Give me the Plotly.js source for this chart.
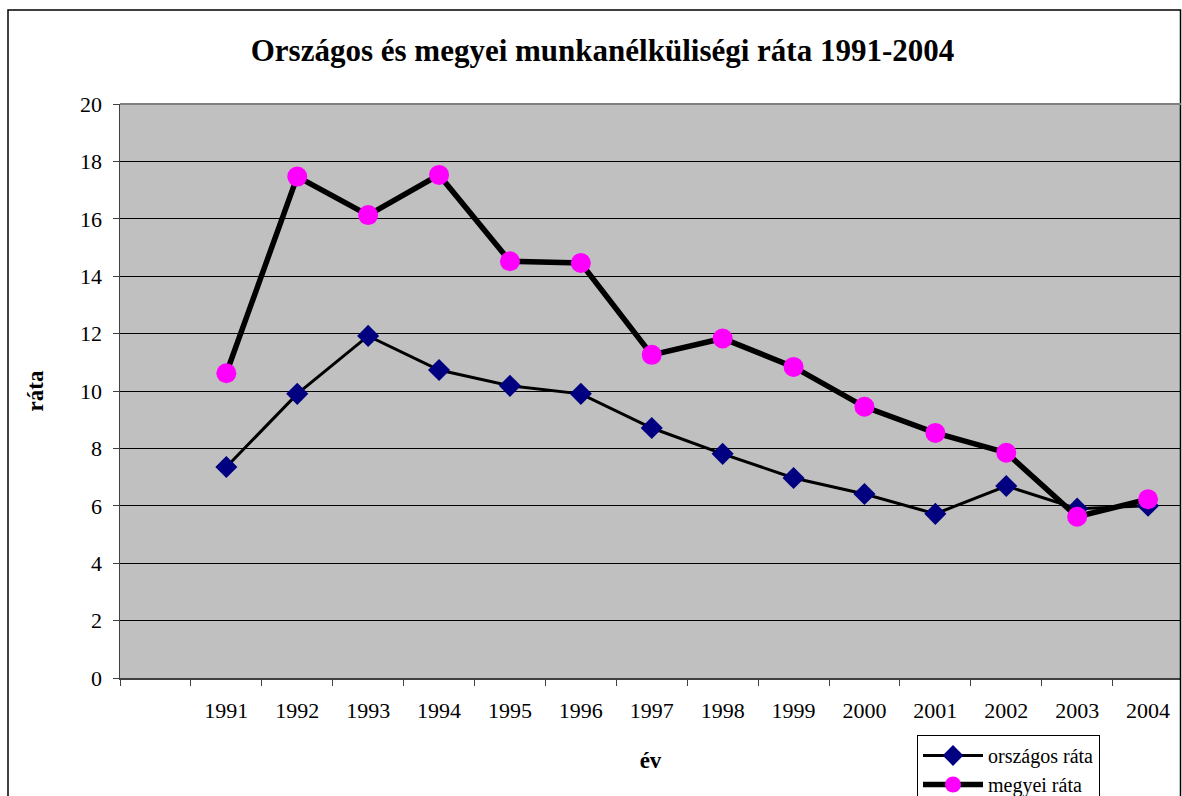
<!DOCTYPE html>
<html>
<head>
<meta charset="utf-8">
<script src="https://cdn.plot.ly/plotly-3.0.1.min.js"></script>
<style>html,body{margin:0;padding:0;background:#fff;}#chart{width:1182px;height:796px;}</style>
</head>
<body>
<div id="chart"></div>
<script>
const years = [1991, 1992, 1993, 1994, 1995, 1996, 1997, 1998, 1999, 2000, 2001, 2002, 2003, 2004];
const orszagos = [7.35, 9.9, 11.92, 10.73, 10.18, 9.9, 8.71, 7.81, 6.97, 6.41, 5.72, 6.69, 5.9, 6.0];
const megyei = [10.62, 17.47, 16.13, 17.53, 14.52, 14.46, 11.26, 11.83, 10.84, 9.45, 8.54, 7.85, 5.62, 6.23];
const yTicks = [0, 2, 4, 6, 8, 10, 12, 14, 16, 18, 20];

const serif = 'Liberation Serif, Times New Roman, serif';

const traces = [
  {
    x: years, y: orszagos, name: 'országos ráta', type: 'scatter', mode: 'lines+markers',
    line: {color: '#000000', width: 3},
    marker: {symbol: 'diamond', size: 17, color: '#000080', line: {width: 0}}
  },
  {
    x: years, y: megyei, name: 'megyei ráta', type: 'scatter', mode: 'lines+markers',
    line: {color: '#000000', width: 5.5},
    marker: {symbol: 'circle', size: 20, color: '#FF00FF', line: {width: 0}}
  }
];

const layout = {
  width: 1182, height: 796,
  margin: {l: 120, r: 1, t: 104, b: 118, autoexpand: false},
  paper_bgcolor: '#ffffff',
  plot_bgcolor: '#c0c0c0',
  font: {family: serif, color: '#000000', size: 22},
  showlegend: true,
  title: {
    text: '<b>Országos és megyei munkanélküliségi ráta 1991-2004</b>',
    font: {family: serif, size: 31, color: '#000'},
    x: 602.5 / 1182, xanchor: 'center', xref: 'container',
    y: 1 - 50/796, yanchor: 'middle', yref: 'container'
  },
  xaxis: {
    range: [1989.5, 1989.5 + 1061/70.9],
    tickvals: years,
    ticktext: years.map(String),
    ticks: 'outside', ticklen: 6, tickcolor: 'rgba(0,0,0,0)',
    ticklabelstandoff: 6,
    tickfont: {family: serif, size: 22, color: '#000'},
    showgrid: false, zeroline: false,
    showline: true, linecolor: '#404040', linewidth: 1.5,
    minor: {tick0: 1989.5, dtick: 1, ticks: 'outside', ticklen: 6, tickcolor: '#404040', tickwidth: 1, showgrid: false},
    title: {text: '<b>év</b>', font: {family: serif, size: 23, color: '#000'}, standoff: 30},
    fixedrange: true
  },
  yaxis: {
    range: [0, 20],
    tickvals: yTicks,
    ticks: 'outside', ticklen: 6, tickcolor: '#404040',
    ticklabelstandoff: 6,
    tickfont: {family: serif, size: 22, color: '#000'},
    showgrid: true, gridcolor: '#000000', gridwidth: 1,
    zeroline: false,
    showline: true, linecolor: '#404040', linewidth: 1.5,
    title: {text: '<b>ráta</b>', font: {family: serif, size: 23, color: '#000'}, standoff: 30},
    fixedrange: true
  },
  legend: {
    x: (917 - 120) / 1061, xanchor: 'left', xref: 'paper',
    y: (678 - 735) / 574, yanchor: 'top', yref: 'paper',
    bgcolor: '#ffffff', bordercolor: '#000000', borderwidth: 1,
    font: {family: serif, size: 20, color: '#000'},
    tracegroupgap: 0, itemwidth: 60
  },
  shapes: [
    {type: 'rect', xref: 'paper', yref: 'paper',
     x0: (8 - 120) / 1061, x1: (1180.5 - 120) / 1061,
     y0: (678 - 10) / 574, y1: (678 - 820) / 574,
     line: {color: '#000', width: 1.5}, fillcolor: 'rgba(0,0,0,0)', layer: 'above'},
    {type: 'line', xref: 'paper', yref: 'paper', x0: 0, x1: 1, y0: 1, y1: 1,
     line: {color: '#808080', width: 2}, layer: 'above'}
  ]
};

Plotly.newPlot('chart', traces, layout, {displayModeBar: false, staticPlot: true});
</script>
</body>
</html>
